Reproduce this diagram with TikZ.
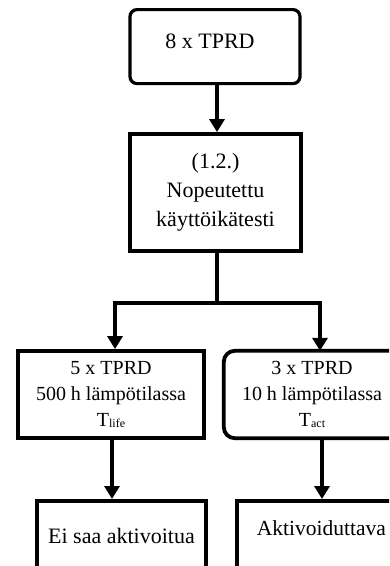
\documentclass[tikz,border=0pt]{standalone}
\usepackage{fontspec}
\setmainfont{Liberation Serif}
\usetikzlibrary{arrows.meta}
\newcommand{\subtxt}[1]{\raisebox{-1.5pt}{\fontsize{12}{12}\selectfont #1}}
\begin{document}
\begin{tikzpicture}[x=1pt,y=-1pt,
  box/.style={draw, line width=3.8pt, inner sep=0pt, align=center},
  bigtxt/.style={font=\fontsize{22}{29}\selectfont},
  midtxt/.style={font=\fontsize{20}{26}\selectfont},
  conn/.style={line width=3.3pt, -{Triangle[width=15pt,length=13pt]}},
  link/.style={line width=3.3pt}
]
\useasboundingbox (0,0) rectangle (389,566);
\clip (0,0) rectangle (389,566);
\fill[white] (0,0) rectangle (389,566);

% top box
\node[box, line width=3.2pt, rounded corners=7pt, bigtxt, anchor=north,
      minimum width=170pt, text height=39pt, text depth=35pt] (top) at (215,8) {\hspace{-10pt}8 x TPRD};

% accelerated test box
\node[box, bigtxt, minimum width=171pt, minimum height=117pt] (test) at (215.5,192.5)
  {(1.2.)\\Nopeutettu\\käyttöikätesti};

% left middle box
\node[box, midtxt, minimum width=186pt, minimum height=87pt] (life) at (111,394.5)
  {5 x TPRD\\500 h lämpötilassa\\T\subtxt{life}};

% right middle box (outline drawn separately)
\node[inner sep=0pt, align=center, midtxt, minimum width=176pt, minimum height=87pt] (act) at (312,394.5)
  {3 x TPRD\\10 h lämpötilassa\\T\subtxt{act}};
\draw[line width=3.8pt, rounded corners=11pt] (act.north east) -- (act.north west) -- (act.south west) -- (act.south east);

% bottom boxes
\node[box, bigtxt, anchor=north, minimum width=169pt, text height=43pt, text depth=58pt] (no) at (121.5,499)
  {Ei saa aktivoitua};
\node[box, font=\fontsize{21.5}{28}\selectfont, anchor=north west, text width=176pt, align=left, text height=35pt, text depth=66pt] (yes) at (235,499)
  {\hspace{20pt}Aktivoiduttava};

% connectors
\draw[conn] (top.south -| 217,0) -- (test.north -| 217,0);
\coordinate (split) at (217,303);
\coordinate (sl) at (115,303);
\coordinate (sr) at (320,303);
\draw[link] (test.south -| split) -- (split);
\draw[link] ([xshift=-1.65pt]sl) -- ([xshift=1.65pt]sr);
\draw[conn] (sl) -- (sl |- life.north);
\draw[conn] (sr) -- (sr |- act.north);
\coordinate (la) at (112,0);
\coordinate (ra) at (322,0);
\draw[conn] (la |- life.south) -- (la |- no.north);
\draw[conn] (ra |- act.south) -- (ra |- yes.north);
\end{tikzpicture}
\end{document}
